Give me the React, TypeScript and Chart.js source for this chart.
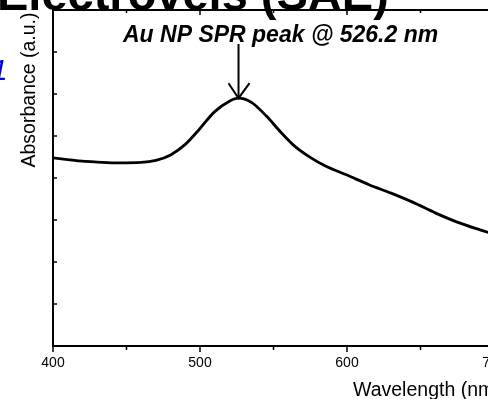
import { useEffect, useRef } from "react";
import { Chart, registerables } from "chart.js";

Chart.register(...registerables);

// ---- data ----
const wavelengths = [400, 410, 420, 430, 445, 460, 470, 480, 490, 500, 510, 520, 526.2, 535, 545, 555, 565, 575, 585, 600, 615, 630, 645, 660, 675, 690, 700];
const absorbance = [4.48, 4.44, 4.40, 4.38, 4.36, 4.37, 4.42, 4.55, 4.80, 5.18, 5.58, 5.83, 5.90, 5.80, 5.48, 5.09, 4.74, 4.49, 4.29, 4.07, 3.84, 3.64, 3.42, 3.17, 2.95, 2.77, 2.66];
const xTickLabels = [400, 500, 600, 700];
const xMinorTicks = [450, 550, 650];
const yTicks = [1, 2, 3, 4, 5, 6, 7];
const peakWavelength = 526.2;
const peakAbsorbance = 5.9;
const titleText = "Electrovels (SAE)";
const annotationText = "Au NP SPR peak @ 526.2 nm";
const yAxisTitle = "Absorbance (a.u.)";
const xAxisTitle = "Wavelength (nm)";
const sideMark = "1";

const FONT = '"Liberation Sans", Arial, sans-serif';

const decorPlugin = {
  id: "decor",
  afterDraw(chart: any) {
    const ctx: CanvasRenderingContext2D = chart.ctx;
    const { left, right, top, bottom } = chart.chartArea;
    const xs = chart.scales.x;
    const ys = chart.scales.y;
    const seg = (x1: number, y1: number, x2: number, y2: number) => {
      ctx.beginPath();
      ctx.moveTo(x1, y1);
      ctx.lineTo(x2, y2);
      ctx.stroke();
    };
    ctx.save();
    ctx.strokeStyle = "#000";
    ctx.fillStyle = "#000";

    // frame
    ctx.lineWidth = 2;
    ctx.strokeRect(left, top, right - left, bottom - top);

    // x ticks
    ctx.lineWidth = 1.5;
    xTickLabels.forEach((v) => {
      const px = xs.getPixelForValue(v);
      seg(px, bottom, px, bottom + 6);
      seg(px, top, px, top + 5);
    });
    xMinorTicks.forEach((v) => {
      const px = xs.getPixelForValue(v);
      seg(px, bottom, px, bottom + 4);
      seg(px, top, px, top + 3);
    });
    // y ticks (inward)
    yTicks.forEach((v) => {
      const py = ys.getPixelForValue(v);
      seg(left, py, left + 4, py);
      seg(right, py, right - 4, py);
    });

    // x tick labels
    ctx.font = `14px ${FONT}`;
    ctx.textAlign = "center";
    ctx.textBaseline = "middle";
    xTickLabels.forEach((v) => {
      ctx.fillText(String(v), xs.getPixelForValue(v), bottom + 17);
    });

    // axis titles
    ctx.font = `19.5px ${FONT}`;
    ctx.textAlign = "left";
    ctx.textBaseline = "alphabetic";
    ctx.fillText(xAxisTitle, 353, 396);

    ctx.save();
    ctx.translate(35, 90);
    ctx.rotate(-Math.PI / 2);
    ctx.textAlign = "center";
    ctx.fillText(yAxisTitle, 0, 0);
    ctx.restore();

    // big (cropped) title
    ctx.font = `bold 47px ${FONT}`;
    ctx.textAlign = "left";
    ctx.fillText(titleText, -3, 10);

    // blue side mark
    ctx.fillStyle = "#0000ff";
    ctx.font = `italic 30px ${FONT}`;
    ctx.fillText(sideMark, -9, 80);
    ctx.fillStyle = "#000";

    // annotation
    ctx.font = `italic bold 23px ${FONT}`;
    ctx.fillText(annotationText, 123, 42);

    // arrow
    const ax = xs.getPixelForValue(peakWavelength);
    const ay = ys.getPixelForValue(peakAbsorbance);
    ctx.lineWidth = 2;
    seg(ax, 44, ax, ay);
    ctx.beginPath();
    ctx.moveTo(ax - 10, ay - 15);
    ctx.lineTo(ax, ay);
    ctx.lineTo(ax + 11, ay - 15);
    ctx.stroke();

    ctx.restore();
  },
};

export default function App() {
  const ref = useRef<HTMLCanvasElement | null>(null);
  useEffect(() => {
    if (!ref.current) return;
    const chart = new Chart(ref.current, {
      type: "line",
      data: {
        datasets: [
          {
            data: wavelengths.map((w, i) => ({ x: w, y: absorbance[i] })),
            borderColor: "#000",
            borderWidth: 2.8,
            pointRadius: 0,
            cubicInterpolationMode: "monotone",
            fill: false,
          },
        ],
      },
      options: {
        responsive: false,
        animation: false,
        events: [],
        layout: { padding: { left: 53, top: 10, right: 46, bottom: 53 } },
        plugins: { legend: { display: false }, tooltip: { enabled: false }, title: { display: false } },
        scales: {
          x: { type: "linear", min: 400, max: 700, display: false },
          y: { type: "linear", min: 0, max: 8, display: false },
        },
      },
      plugins: [decorPlugin],
    });
    return () => chart.destroy();
  }, []);
  return (
    <div style={{ position: "fixed", left: 0, top: 0, width: 488, height: 399, overflow: "hidden", background: "#fff" }}>
      <canvas ref={ref} width={540} height={399} style={{ display: "block" }} />
    </div>
  );
}
